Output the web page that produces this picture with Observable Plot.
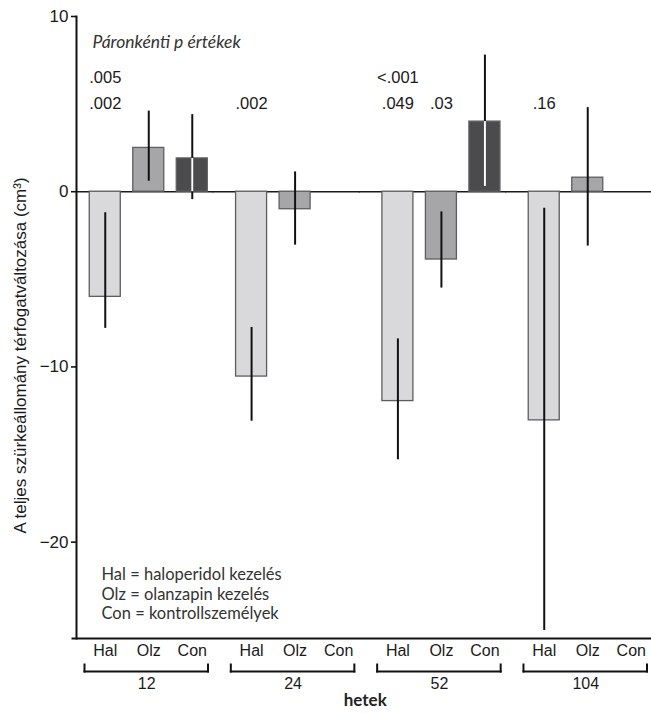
<!DOCTYPE html>
<html>
<head>
<meta charset="utf-8">
<script src="https://cdn.jsdelivr.net/npm/d3@7"></script>
<script src="https://cdn.jsdelivr.net/npm/@observablehq/plot@0.6"></script>
<style>
  html, body { margin: 0; padding: 0; background: #fff; }
</style>
</head>
<body>
<div id="chart"></div>
<script>
// ---- data ----
const weeks = [12, 24, 52, 104];
const treatments = ["Hal", "Olz", "Con"];
const barWeek  = [12, 12, 12, 24, 24, 52, 52, 52, 104, 104];
const barGroup = ["Hal", "Olz", "Con", "Hal", "Olz", "Hal", "Olz", "Con", "Hal", "Olz"];
const barValue = [-6.0, 2.5, 1.9, -10.55, -1.0, -11.95, -3.87, 4.0, -13.05, 0.8];
const errLow   = [-7.8, 0.6, -0.45, -13.1, -3.05, -15.3, -5.5, 0.3, -25.05, -3.1];
const errHigh  = [-1.2, 4.6, 4.4, -7.75, 1.13, -8.4, -1.15, 7.8, -0.95, 4.8];
const yTicks = [10, 0, -10, -20];
const pRow1Week = [12, 52];
const pRow1Group = ["Hal", "Hal"];
const pRow1Text = [".005", "<.001"];
const pRow2Week = [12, 24, 52, 52, 104];
const pRow2Group = ["Hal", "Hal", "Hal", "Olz", "Hal"];
const pRow2Text = [".002", ".002", ".049", ".03", ".16"];
const legendLines = ["Hal = haloperidol kezelés", "Olz = olanzapin kezelés", "Con = kontrollszemélyek"];
const titleText = "Páronkénti p értékek";
const yLabel = "A teljes szürkeállomány térfogatváltozása (cm³)";
const xLabel = "hetek";
const barColors = ["#d9d9dc", "#a6a6a9", "#4b4b4e"];

// ---- derived tables ----
const bars = barWeek.map((w, i) => ({week: w, treatment: barGroup[i], value: barValue[i], lo: errLow[i], hi: errHigh[i]}));
const conBars = bars.filter(d => d.treatment === "Con");
const catLabels = weeks.flatMap(w => treatments.map(t => ({week: w, treatment: t})));
const pRow1 = pRow1Week.map((w, i) => ({week: w, treatment: pRow1Group[i], label: pRow1Text[i]}));
const pRow2 = pRow2Week.map((w, i) => ({week: w, treatment: pRow2Group[i], label: pRow2Text[i]}));
const zeroFirst = weeks.slice(0, 1).map(w => ({week: w, y: 0}));
const zeroRest = weeks.slice(1).map(w => ({week: w, y: 0}));

const sans = "'Liberation Sans', Arial, Helvetica, sans-serif";
const humanist = "Lato, 'Open Sans', sans-serif";

const chart = Plot.plot({
  width: 651,
  height: 713,
  marginLeft: 76,
  marginRight: 0,
  marginTop: 16,
  marginBottom: 75,
  style: {background: "#fff", overflow: "visible", fontFamily: sans, color: "#1a1a1a"},
  fx: {domain: weeks, range: [83, 652.5], paddingInner: 0.108, paddingOuter: 0, round: false, axis: null},
  x: {domain: treatments, paddingInner: 0.287, paddingOuter: 0.1435, round: false, axis: null},
  y: {domain: [-25.5, 10], axis: null},
  color: {domain: treatments, range: barColors},
  marks: [
    Plot.ruleY(zeroFirst, {fx: "week", y: "y", insetLeft: -7, stroke: "#1a1a1a", strokeWidth: 1.6}),
    Plot.ruleY(zeroRest, {fx: "week", y: "y", insetLeft: -17, stroke: "#1a1a1a", strokeWidth: 1.6}),
    Plot.barY(bars, {fx: "week", x: "treatment", y: "value", fill: "treatment", stroke: "#5e5e60", strokeWidth: 1.3}),
    Plot.ruleX(bars, {fx: "week", x: "treatment", y1: "lo", y2: "hi", stroke: "#111", strokeWidth: 2}),
    Plot.ruleX(conBars, {fx: "week", x: "treatment", y1: d => Math.max(d.lo, 0), y2: d => Math.min(d.hi, d.value), stroke: "#fff", strokeWidth: 2}),
    // axes
    Plot.frame({facet: "super", anchor: "left", insetLeft: -7, stroke: "#111", strokeWidth: 2}),
    Plot.frame({facet: "super", anchor: "bottom", insetLeft: -11, stroke: "#111", strokeWidth: 2}),
    Plot.axisY({ticks: yTicks, tickFormat: d3.format("d"), tickSize: 5, tickPadding: 3, dx: -7,
      fontSize: 17, fontFamily: sans, stroke: "#111", strokeWidth: 1.6, fill: "#1a1a1a", label: null}),
    // category labels
    Plot.text(catLabels, {fx: "week", x: "treatment", text: "treatment", frameAnchor: "bottom", dy: 17,
      fontSize: 16, fontFamily: sans, fill: "#1a1a1a"}),
    // brackets
    Plot.frame({anchor: "bottom", dy: 33, insetLeft: 1, insetRight: 6, stroke: "#111", strokeWidth: 2}),
    Plot.frame({anchor: "left", dy: 33, insetLeft: 1, insetTop: 615, stroke: "#111", strokeWidth: 2}),
    Plot.frame({anchor: "right", dy: 33, insetRight: 6, insetTop: 615, stroke: "#111", strokeWidth: 2}),
    // group labels
    Plot.text(weeks, {fx: d => d, text: d => String(d), frameAnchor: "bottom", dx: -2, dy: 50,
      fontSize: 16, fontFamily: sans, fill: "#1a1a1a"}),
    // p values
    Plot.text(pRow1, {fx: "week", x: "treatment", text: "label", frameAnchor: "top", lineAnchor: "middle", dy: 61,
      fontSize: 16.5, fontFamily: sans, fill: "#1a1a1a"}),
    Plot.text(pRow2, {fx: "week", x: "treatment", text: "label", frameAnchor: "top", lineAnchor: "middle", dy: 87,
      fontSize: 16.5, fontFamily: sans, fill: "#1a1a1a"}),
    // title, legend, axis labels
    Plot.text([titleText], {facet: "super", frameAnchor: "top-left", textAnchor: "start", lineAnchor: "middle",
      dx: 9, dy: 26, fontStyle: "italic", fontSize: 17.5, fontFamily: humanist, fill: "#333"}),
    Plot.text([legendLines.join("\n")], {facet: "super", frameAnchor: "bottom-left", textAnchor: "start", lineAnchor: "bottom",
      dx: 18, dy: -19.7, lineHeight: 1.17, fontSize: 16.5, fontFamily: humanist, fill: "#333"}),
    Plot.text([yLabel], {facet: "super", frameAnchor: "left", textAnchor: "middle", lineAnchor: "middle", rotate: -90, dx: -63, dy: 28,
      fontSize: 17, fontFamily: sans, fill: "#1a1a1a"}),
    Plot.text([xLabel], {facet: "super", frameAnchor: "bottom", dx: -3, dy: 67,
      fontSize: 17, fontWeight: "bold", fontFamily: humanist, fill: "#222"})
  ]
});
document.getElementById("chart").appendChild(chart);
</script>
</body>
</html>
